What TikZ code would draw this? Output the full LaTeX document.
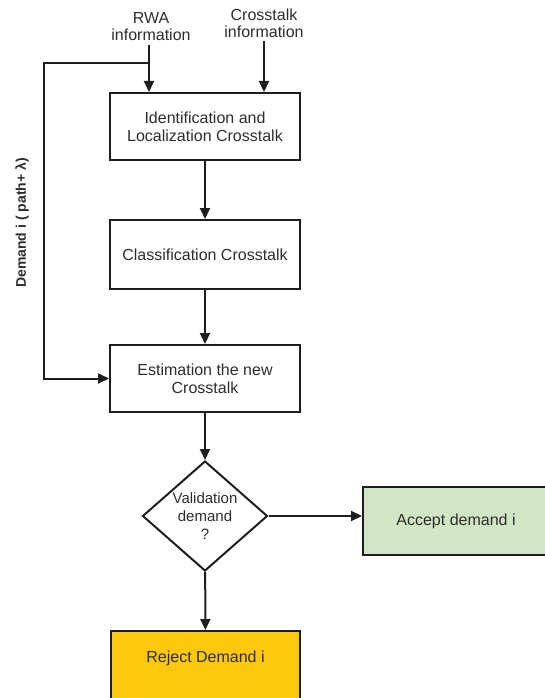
\documentclass[tikz,border=0pt]{standalone}
\usepackage{fontspec}
\setmainfont{Liberation Sans}
\usetikzlibrary{shapes.geometric, arrows.meta, positioning}
\definecolor{linegray}{RGB}{30, 30, 30}
\definecolor{textgray}{RGB}{45, 45, 45}
\definecolor{acceptgreen}{RGB}{208, 230, 196}
\definecolor{rejectyellow}{RGB}{253, 199, 12}
\tikzset{
  >=Triangle,
  flowarrow/.style={-{Triangle[length=11pt, width=10pt]}, line width=2pt, linegray},
  flowline/.style={line width=2pt, linegray},
  procbox/.style={rectangle, draw=linegray, line width=2pt, minimum width=190pt, minimum height=67pt, align=center, text=textgray, font=\fontsize{16}{18}\selectfont},
  decisionbox/.style={diamond, draw=linegray, line width=2pt, minimum width=125pt, minimum height=110pt, inner sep=0pt, aspect=1.14, align=center, text=textgray, font=\fontsize{15}{18}\selectfont},
  infotext/.style={align=center, text=textgray, font=\fontsize{16}{17}\selectfont}
}

\begin{document}
\begin{tikzpicture}[x=1pt, y=-1pt]
    \useasboundingbox (0, 0) rectangle (545, 698);

    % --- INPUTS ---
    \node[infotext] (rwa) at (151, 27) {RWA\\information};
    \node[infotext] (cross) at (264, 23.5) {Crosstalk\\information};

    % --- CROSSTALK PROCESSING ---
    \node[procbox] (ident) at (205, 126.5) {Identification and\\Localization Crosstalk};
    \node[procbox, minimum height=69pt] (classif) at (205, 254.5) {Classification Crosstalk};
    \node[procbox] (estim) at (205, 378.5) {Estimation the new\\Crosstalk};

    % --- DECISION ---
    \node[decisionbox] (valid) at (205, 516) {Validation\\demand\\?};
    \node[procbox, fill=acceptgreen, minimum width=186pt, minimum height=68pt] (accept) at (456, 521) {Accept demand i};
    \node[procbox, fill=rejectyellow, minimum width=189pt, minimum height=68pt, text depth=17pt] (reject) at (205.5, 665) {Reject Demand i};

    % --- DEMAND FEEDBACK ---
    \coordinate (split) at (149, 63);
    \coordinate (fbcorner) at (44, 63);
    \node[rotate=90, text=textgray, font=\fontsize{14}{16}\selectfont\bfseries] (demand) at (22, 223) {Demand i ( path+ λ)};

    % Arrows
    \draw[flowarrow] (rwa.south -| split) -- (split |- ident.north);
    \draw[flowarrow] (cross.south) -- (cross.south |- ident.north);
    \draw[flowarrow] (split) -- (fbcorner) |- (estim.west);
    \draw[flowarrow] (ident) -- (classif);
    \draw[flowarrow] (classif) -- (estim);
    \draw[flowarrow] (estim) -- (valid);
    \draw[flowarrow] (valid.east) -- (valid.east -| accept.west);
    \draw[flowarrow] (valid) -- (reject);
\end{tikzpicture}
\end{document}
